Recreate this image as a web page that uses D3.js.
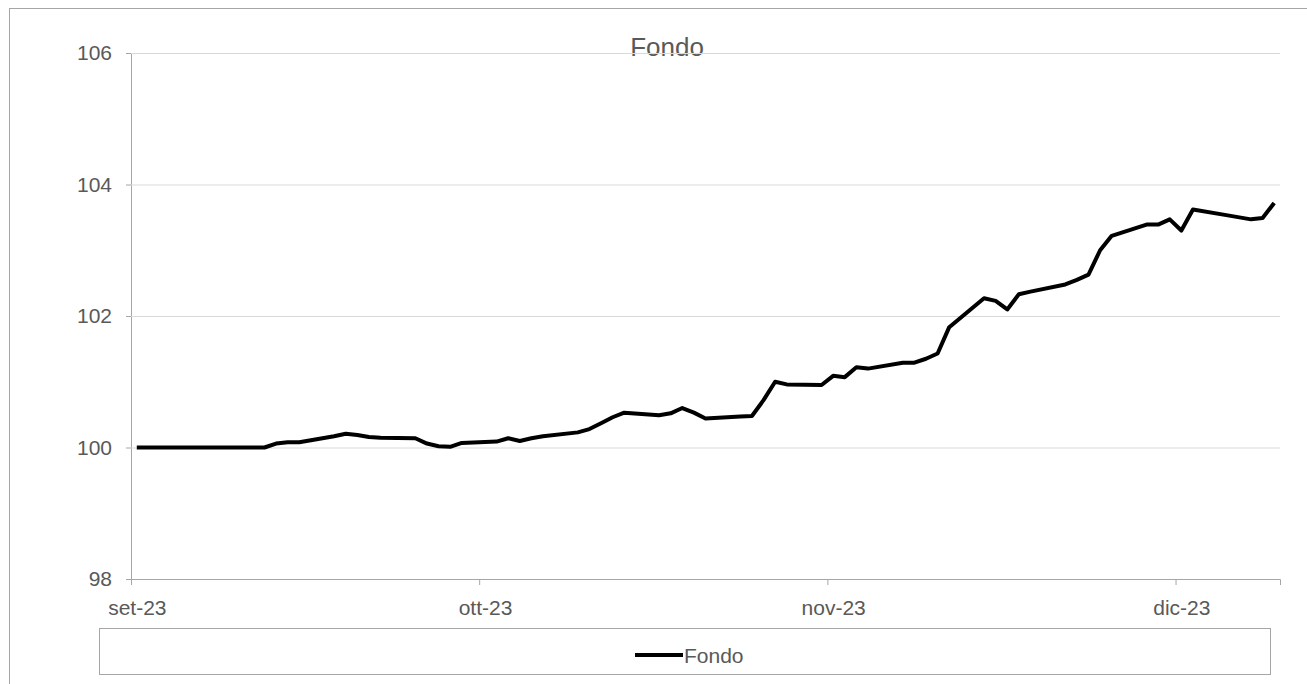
<!DOCTYPE html>
<html>
<head>
<meta charset="utf-8">
<script src="https://cdn.jsdelivr.net/npm/d3@7"></script>
<style>
  body { margin: 0; background: #fff; }
  svg { display: block; font-family: "Liberation Sans", Arial, sans-serif; }
</style>
</head>
<body>
<div id="chart"></div>
<script>
// business days shown in the chart (Excel date axis, values plotted at the middle of each day)
const dates = [
  "2023-09-01","2023-09-04","2023-09-05","2023-09-06","2023-09-07","2023-09-08",
  "2023-09-11","2023-09-12","2023-09-13","2023-09-14","2023-09-15",
  "2023-09-18","2023-09-19","2023-09-20","2023-09-21","2023-09-22",
  "2023-09-25","2023-09-26","2023-09-27","2023-09-28","2023-09-29",
  "2023-10-02","2023-10-03","2023-10-04","2023-10-05","2023-10-06",
  "2023-10-09","2023-10-10","2023-10-11","2023-10-12","2023-10-13",
  "2023-10-16","2023-10-17","2023-10-18","2023-10-19","2023-10-20",
  "2023-10-23","2023-10-24","2023-10-25","2023-10-26","2023-10-27",
  "2023-10-30","2023-10-31","2023-11-01","2023-11-02","2023-11-03",
  "2023-11-06","2023-11-07","2023-11-08","2023-11-09","2023-11-10",
  "2023-11-13","2023-11-14","2023-11-15","2023-11-16","2023-11-17",
  "2023-11-20","2023-11-21","2023-11-22","2023-11-23","2023-11-24",
  "2023-11-27","2023-11-28","2023-11-29","2023-11-30","2023-12-01",
  "2023-12-04","2023-12-05","2023-12-06","2023-12-07","2023-12-08"
];
const fondo = [
  100.00, 100.00, 100.00, 100.00, 100.00, 100.00,
  100.00, 100.00, 100.06, 100.08, 100.08,
  100.17, 100.21, 100.19, 100.16, 100.15,
  100.14, 100.06, 100.02, 100.01, 100.07,
  100.09, 100.14, 100.10, 100.14, 100.17,
  100.23, 100.28, 100.37, 100.46, 100.53,
  100.49, 100.52, 100.60, 100.53, 100.44,
  100.47, 100.48, 100.72, 101.00, 100.96,
  100.95, 101.09, 101.07, 101.22, 101.20,
  101.29, 101.29, 101.35, 101.43, 101.83,
  102.27, 102.23, 102.10, 102.33, 102.37,
  102.48, 102.55, 102.63, 103.00, 103.22,
  103.39, 103.39, 103.47, 103.30, 103.62,
  103.53, 103.50, 103.47, 103.49, 103.72
];
const seriesName = "Fondo";
const yTicks = [98, 100, 102, 104, 106];
// the workbook axis steps 30 days from the first date
const xTickDates = ["2023-09-01", "2023-10-01", "2023-10-31", "2023-11-30"];
const xTickLabels = ["set-23", "ott-23", "nov-23", "dic-23"];

const width = 1307, height = 684;
const marginLeft = 131, marginRight = 27, marginTop = 53, plotBottom = 579;
const textColor = "#595959";
const parse = d3.utcParse("%Y-%m-%d");
const halfDay = 12 * 3600 * 1000;

const data = dates.map((d, i) => ({ date: parse(d), value: fondo[i] }));

const svg = d3.select("#chart").append("svg")
  .attr("width", width)
  .attr("height", height)
  .attr("viewBox", [0, 0, width, height]);

// outer chart frame (cut by the window on the right and bottom)
svg.append("rect")
  .attr("x", 9.5).attr("y", 8.5)
  .attr("width", width + 10).attr("height", height + 10)
  .attr("fill", "none").attr("stroke", "#a6a6a6");

const x = d3.scaleUtc([parse("2023-09-01"), parse("2023-12-09")], [marginLeft, width - marginRight]);
const y = d3.scaleLinear([98, 106], [plotBottom, marginTop]);

// title
svg.append("text")
  .attr("x", 667).attr("y", 56)
  .attr("text-anchor", "middle")
  .attr("fill", textColor)
  .attr("font-size", 26)
  .text(seriesName);

// y axis with gridlines
svg.append("g")
  .attr("transform", `translate(${marginLeft},0)`)
  .call(d3.axisLeft(y).tickValues(yTicks).tickSize(5).tickPadding(14))
  .call(g => g.select(".domain").attr("stroke", "#a6a6a6"))
  .call(g => g.selectAll(".tick line").attr("stroke", "#a6a6a6"))
  .call(g => g.selectAll(".tick").filter(d => d !== 98).append("line")
    .attr("x1", 0).attr("x2", width - marginRight - marginLeft)
    .attr("stroke", "#d9d9d9"))
  .call(g => g.selectAll(".tick text")
    .attr("fill", textColor).attr("font-size", 21)
    .attr("font-family", "Liberation Sans, Arial, sans-serif"));

// x axis
svg.append("g")
  .attr("transform", `translate(0,${plotBottom})`)
  .call(d3.axisBottom(x).tickValues(xTickDates.map(parse)).tickSize(6).tickFormat((d, i) => xTickLabels[i]))
  .call(g => g.select(".domain").attr("stroke", "#a6a6a6"))
  .call(g => g.selectAll(".tick line").attr("stroke", "#a6a6a6"))
  .call(g => g.selectAll(".tick text")
    .attr("fill", textColor).attr("font-size", 21)
    .attr("font-family", "Liberation Sans, Arial, sans-serif")
    .attr("y", 36).attr("dy", 0)
    .attr("x", d => x(new Date(+d + halfDay)) - x(d)));

// data line
const line = d3.line()
  .x(d => x(new Date(+d.date + halfDay)))
  .y(d => y(d.value));

svg.append("path")
  .attr("d", line(data))
  .attr("fill", "none")
  .attr("stroke", "#000")
  .attr("stroke-width", 4)
  .attr("stroke-linejoin", "round");

// legend
const legend = svg.append("g");
legend.append("rect")
  .attr("x", 99.5).attr("y", 628.5)
  .attr("width", 1171).attr("height", 46)
  .attr("fill", "#fff").attr("stroke", "#a6a6a6");
legend.append("line")
  .attr("x1", 635).attr("x2", 683)
  .attr("y1", 655).attr("y2", 655)
  .attr("stroke", "#000").attr("stroke-width", 4);
legend.append("text")
  .attr("x", 684).attr("y", 663)
  .attr("fill", textColor).attr("font-size", 21)
  .text(seriesName);
</script>
</body>
</html>
